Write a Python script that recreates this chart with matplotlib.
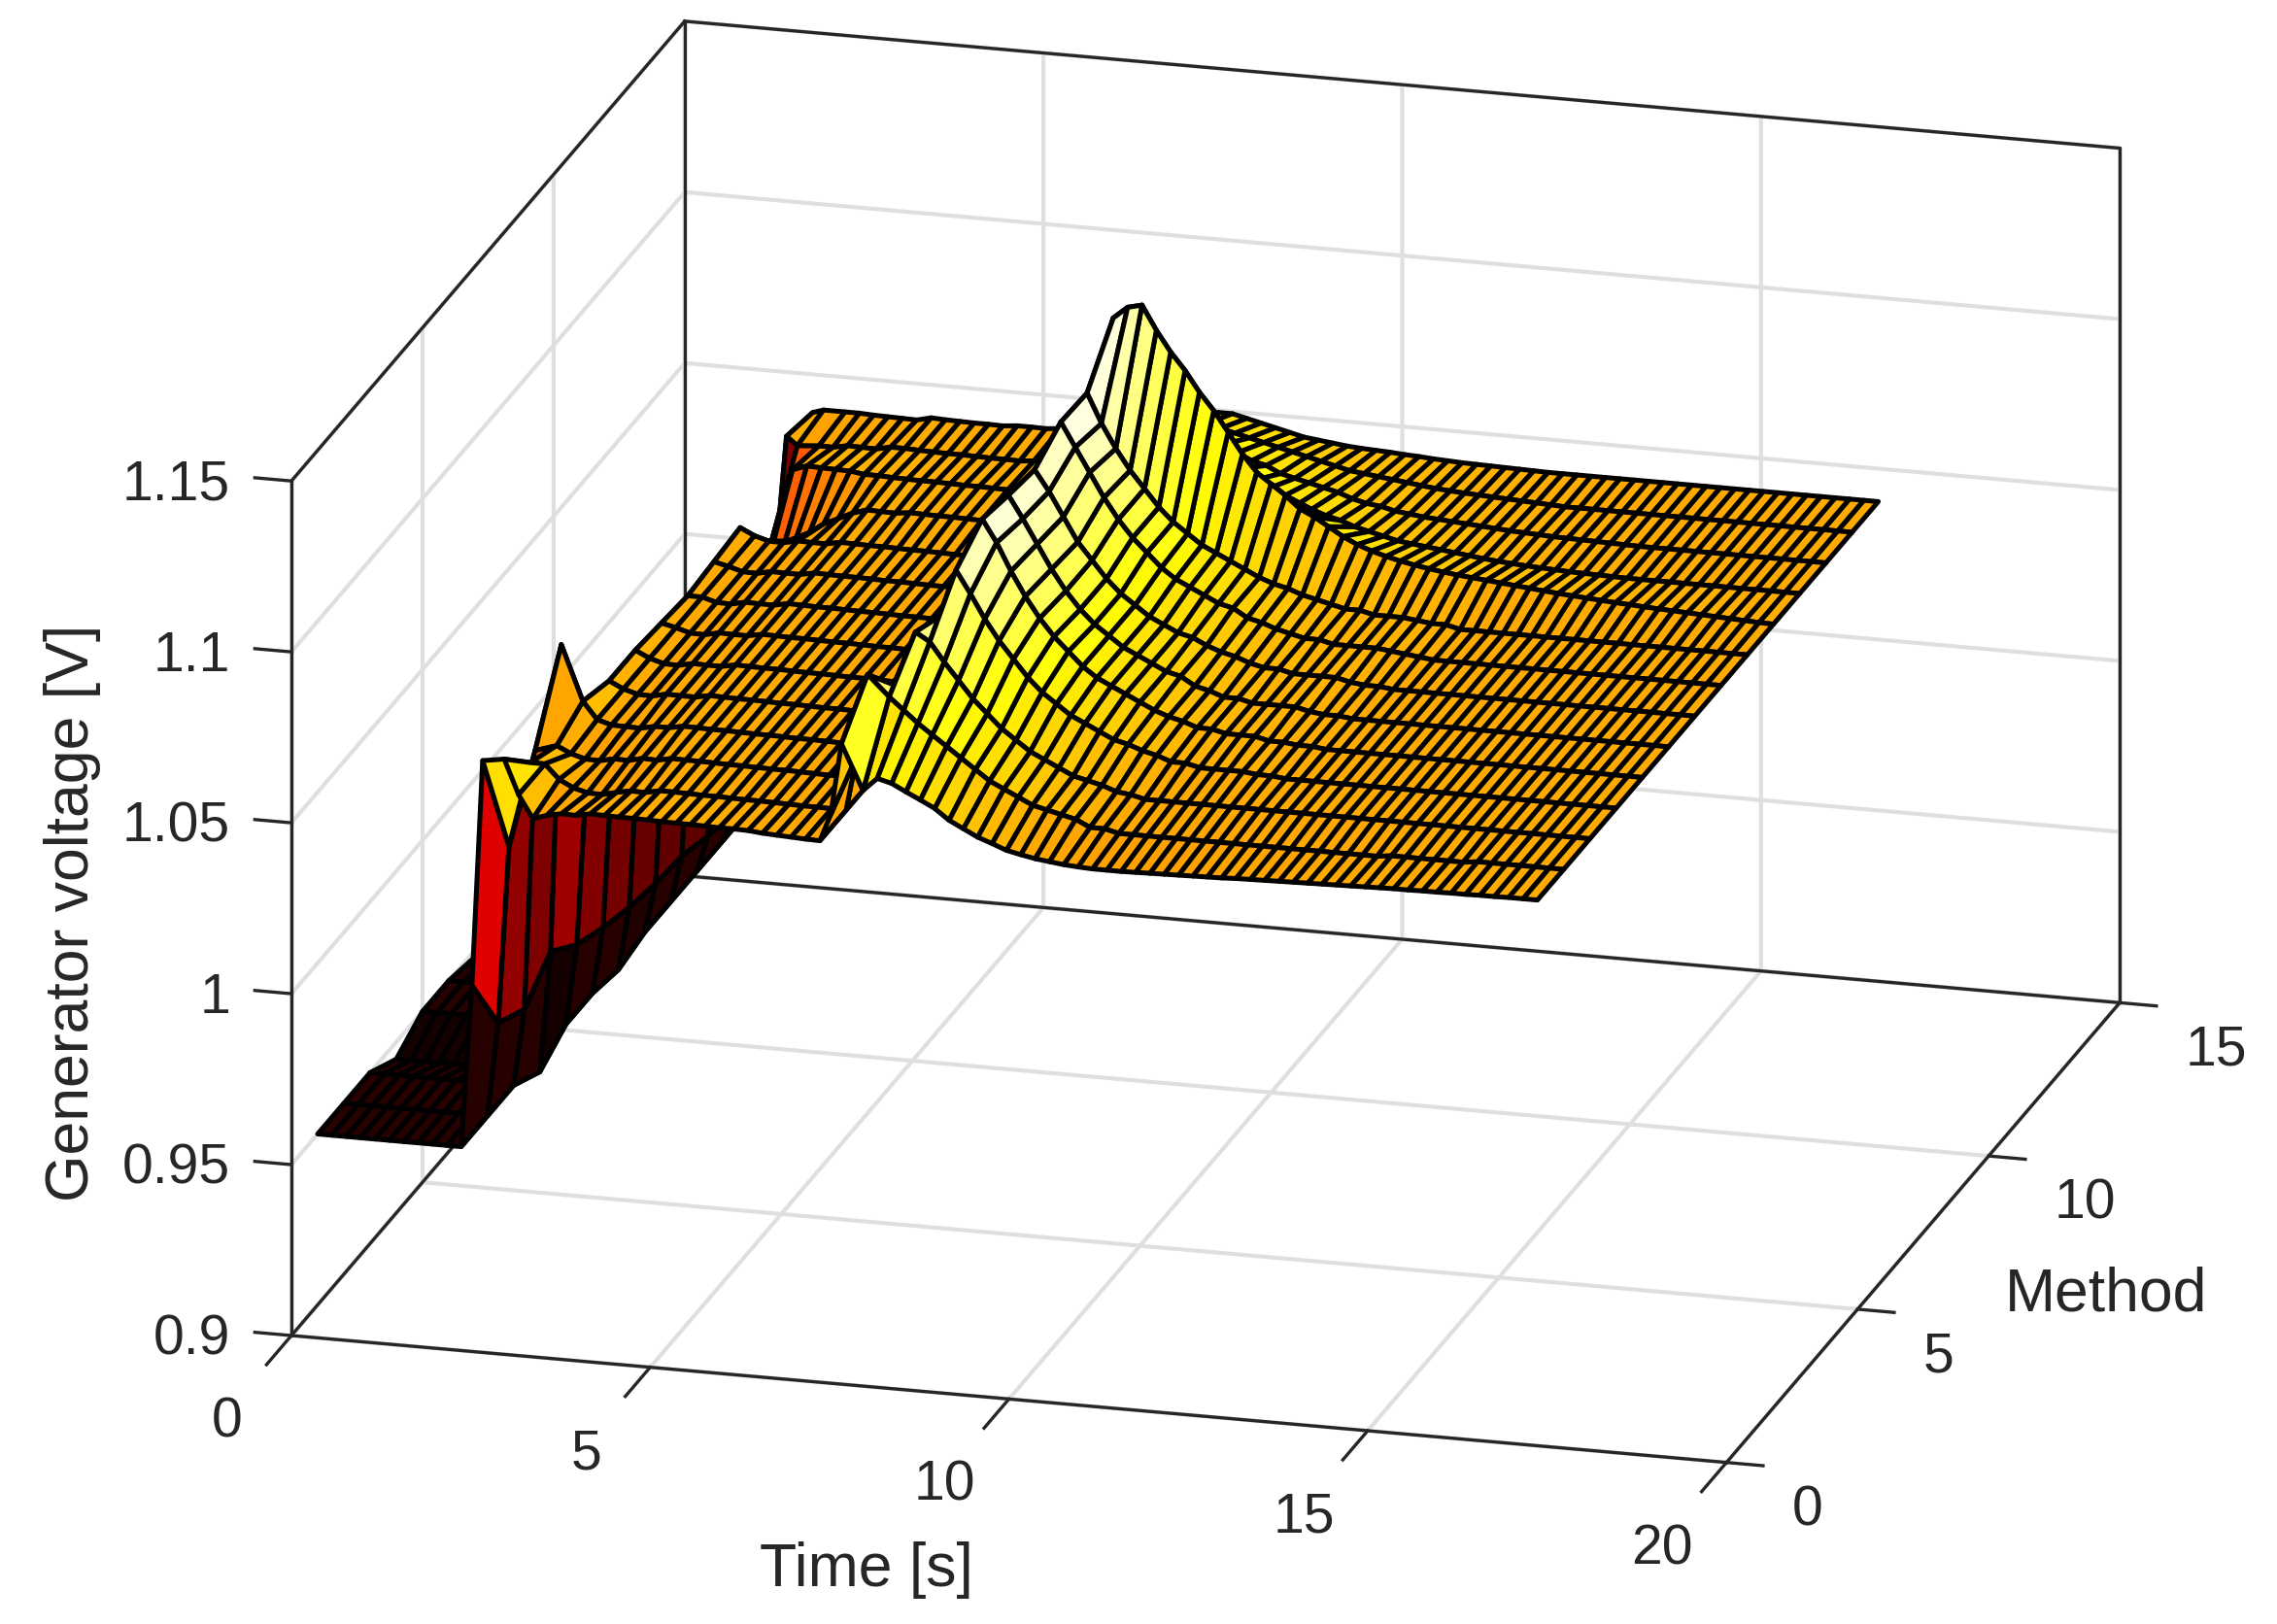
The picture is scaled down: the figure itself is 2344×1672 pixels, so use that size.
#!/usr/bin/env python
"""Generator voltage surface over time and method, MATLAB style view."""
import matplotlib
matplotlib.use("Agg")
import matplotlib.pyplot as plt
import numpy as np
from mpl_toolkits.mplot3d import proj3d

plt.rcParams["font.family"] = ["Liberation Sans", "DejaVu Sans"]

TEXT_COLOR = "#262626"
GRID_COLOR = "#dfdfdf"

x_ticks = [0, 5, 10, 15, 20]
y_ticks = [0, 5, 10, 15]
z_ticks = [0.9, 0.95, 1.0, 1.05, 1.1, 1.15]
x_tick_labels = ["0", "5", "10", "15", "20"]
y_tick_labels = ["0", "5", "10", "15"]
z_tick_labels = ["0.9", "0.95", "1", "1.05", "1.1", "1.15"]

method = list(range(1, 15))

time_s = [
    0.0, 0.2, 0.4, 0.6, 0.8, 1.0, 1.2, 1.4, 1.6, 1.8, 2.0,
    2.15, 2.3, 2.6, 2.8,
    3.0, 3.2, 3.4, 3.6, 3.8, 4.0, 4.2, 4.4, 4.6, 4.8, 5.0,
    5.2, 5.4, 5.6, 5.8, 6.0, 6.2, 6.4, 6.6, 6.8, 7.0,
    7.15, 7.3, 7.6, 7.8, 8.0, 8.2, 8.4, 8.6, 8.8, 9.0,
    9.2, 9.4, 9.6, 9.8, 10.0, 10.2, 10.4, 10.6, 10.8, 11.0,
    11.2, 11.4, 11.6, 11.8, 12.0, 12.2, 12.4, 12.6, 12.8, 13.0,
    13.2, 13.4, 13.6, 13.8, 14.0, 14.2, 14.4, 14.6, 14.8, 15.0,
    15.2, 15.4, 15.6, 15.8, 16.0, 16.2, 16.4, 16.6, 16.8, 17.0,
]

# plateau from 3 s to 7 s shared by the middle methods
plateau_mid = [
    1.0483, 1.0482, 1.0491, 1.049, 1.049, 1.0498, 1.0497, 1.0496, 1.0496, 1.0495, 1.0494,
    1.0494, 1.0493, 1.0492, 1.0492, 1.0491, 1.049, 1.0489, 1.0489, 1.0488, 1.0488,
]

# one row per method: flat start, step at 2 s, plateau, ridge after 7 s, tail
method_01 = [0.950] * 11 + [0.9975, 1.0635, 1.0645, 1.0545] + [
    1.0478, 1.0492, 1.05, 1.0499, 1.0507, 1.0506, 1.0505, 1.0505, 1.0504, 1.0503, 1.0502,
    1.0502, 1.0501, 1.05, 1.05, 1.0499, 1.0495, 1.0493, 1.0491, 1.0489, 1.0488] + [
    1.0567, 1.0777, 1.0646, 1.0685, 1.0674, 1.0653, 1.0633, 1.0612, 1.0581, 1.056,
    1.0539, 1.0524, 1.0508, 1.0499, 1.0491, 1.0486, 1.0481, 1.0478, 1.0476, 1.0476,
    1.0476, 1.0477, 1.0478, 1.0479, 1.048, 1.0481, 1.0482, 1.0483, 1.0485, 1.0486,
    1.0487, 1.0488, 1.0489, 1.049, 1.0491, 1.0492, 1.0493, 1.0494, 1.0495, 1.0496,
    1.0496, 1.0497, 1.0497, 1.0498, 1.0498, 1.0499, 1.0499, 1.05, 1.05, 1.05]
method_02 = [0.950] * 11 + [0.9775, 1.0295, 1.0545, 1.0545] + [
    1.0503, 1.0482, 1.0471, 1.047, 1.048, 1.0488, 1.0487, 1.0496, 1.0496, 1.0495, 1.0494,
    1.0494, 1.0493, 1.0492, 1.0492, 1.0491, 1.049, 1.0489, 1.0489, 1.0488, 1.0488] + [
    1.065, 1.089, 1.083, 1.0795, 1.076, 1.073, 1.070, 1.067, 1.064, 1.061,
    1.059, 1.057, 1.055, 1.054, 1.053, 1.052, 1.050, 1.050, 1.049, 1.049,
    1.049, 1.049, 1.049, 1.049, 1.049, 1.049, 1.049, 1.049, 1.049, 1.049
] + [1.049] * 7 + [1.0495] * 6 + [1.05] * 7
method_03 = [0.950] * 11 + [0.9725, 1.0485, 1.0505, 1.0485] + [
    1.0473, 1.0472, 1.0481, 1.048, 1.049, 1.0488, 1.0497, 1.0496, 1.0496, 1.0495, 1.0494,
    1.0494, 1.0493, 1.0492, 1.0492, 1.0491, 1.049, 1.0489, 1.0489, 1.0488, 1.0488] + [
    1.059, 1.077, 1.093, 1.0905, 1.085, 1.080, 1.075, 1.071, 1.067, 1.064,
    1.061, 1.059, 1.057, 1.055, 1.054, 1.053, 1.0515, 1.051, 1.050, 1.050,
    1.050, 1.050, 1.050, 1.050, 1.050, 1.050, 1.050, 1.050, 1.050, 1.050
] + [1.05] * 20
method_04 = [0.945] * 11 + [0.9805, 1.0705, 1.0545, 1.0495] + [
    1.0483, 1.0482, 1.0481, 1.049, 1.049, 1.0498, 1.0497, 1.0496, 1.0496, 1.0495, 1.0494,
    1.0494, 1.0493, 1.0492, 1.0492, 1.0491, 1.049, 1.0489, 1.0489, 1.0488, 1.0488] + [
    1.055, 1.067, 1.089, 1.1025, 1.096, 1.089, 1.083, 1.078, 1.073, 1.069,
    1.066, 1.063, 1.061, 1.059, 1.057, 1.056, 1.0545, 1.0535, 1.052, 1.052,
    1.051, 1.051, 1.051, 1.051, 1.0505, 1.0505, 1.05, 1.05, 1.05, 1.05
] + [1.05] * 20
method_05 = [0.950] * 11 + [0.9735, 1.0285, 1.0515, 1.0495] + plateau_mid + [
    1.053, 1.063, 1.089, 1.1085, 1.102, 1.094, 1.087, 1.081, 1.076, 1.072,
    1.068, 1.065, 1.063, 1.061, 1.059, 1.057, 1.0555, 1.0545, 1.053, 1.053,
    1.052, 1.052, 1.052, 1.051, 1.051, 1.0505, 1.0505, 1.05, 1.05, 1.05
] + [1.05] * 20
method_06 = [0.950] * 11 + [0.9695, 1.0265, 1.0515, 1.0495] + plateau_mid + [
    1.052, 1.062, 1.088, 1.1065, 1.100, 1.093, 1.086, 1.080, 1.075, 1.071,
    1.068, 1.065, 1.063, 1.061, 1.059, 1.058, 1.0555, 1.0545, 1.053, 1.053,
    1.052, 1.052, 1.052, 1.052, 1.051, 1.0505, 1.0505, 1.05, 1.05, 1.05
] + [1.05] * 20
method_07 = [0.948] * 11 + [0.9665, 1.0235, 1.0505, 1.0495] + plateau_mid + [
    1.052, 1.061, 1.087, 1.105, 1.099, 1.092, 1.085, 1.080, 1.075, 1.071,
    1.068, 1.065, 1.063, 1.061, 1.060, 1.058, 1.0565, 1.0555, 1.054, 1.053,
    1.053, 1.052, 1.052, 1.052, 1.052, 1.051, 1.0505, 1.0505, 1.05, 1.05
] + [1.05] * 20
method_08 = [0.950] * 11 + [0.9645, 1.0225, 1.0495, 1.0495] + plateau_mid + [
    1.052, 1.062, 1.091, 1.110, 1.103, 1.096, 1.089, 1.083, 1.078, 1.074,
    1.070, 1.067, 1.065, 1.063, 1.061, 1.060, 1.0575, 1.0565, 1.055, 1.054,
    1.053, 1.053, 1.052, 1.052, 1.052, 1.052, 1.0515, 1.051, 1.0505, 1.05
] + [1.05] * 20
method_09 = [0.950] * 11 + [0.9635, 1.0205, 1.0505, 1.0495] + plateau_mid + [
    1.052, 1.063, 1.091, 1.1095, 1.101, 1.094, 1.088, 1.083, 1.078, 1.074,
    1.071, 1.068, 1.066, 1.064, 1.062, 1.060, 1.0585, 1.0575, 1.056, 1.055,
    1.054, 1.053, 1.053, 1.052, 1.052, 1.052, 1.0515, 1.051, 1.051, 1.05
] + [1.05] * 20
method_10 = [0.950] * 11 + [0.9605, 1.0185, 1.0515, 1.0495] + plateau_mid + [
    1.053, 1.067, 1.107, 1.1225, 1.126, 1.127, 1.120, 1.114, 1.109, 1.103,
    1.098, 1.092, 1.086, 1.081, 1.078, 1.075, 1.0715, 1.0695, 1.067, 1.0645,
    1.0625, 1.061, 1.0598, 1.0588, 1.058, 1.0573, 1.0567, 1.0562, 1.0558, 1.0554,
    1.055, 1.0546, 1.0542, 1.0538, 1.0534, 1.0531, 1.0528, 1.0525, 1.0522, 1.052,
    1.0517, 1.0515, 1.0513, 1.0511, 1.0509, 1.0507, 1.0505, 1.0503, 1.0501, 1.05]
method_11 = [0.950] * 11 + [0.9585, 1.0035, 1.0305, 1.0345] + [
    1.0393, 1.0422, 1.0451, 1.047, 1.049, 1.0503, 1.0502, 1.0501, 1.0506, 1.0505, 1.0504,
    1.0504, 1.0503, 1.0502, 1.0502, 1.0501, 1.05, 1.0499, 1.0499, 1.0498, 1.0498] + [
    1.052, 1.057, 1.075, 1.0865, 1.090, 1.088, 1.085, 1.082, 1.078, 1.075,
    1.072, 1.069, 1.067, 1.065, 1.063, 1.062, 1.0605, 1.0595, 1.058, 1.057,
    1.056, 1.055, 1.0545, 1.054, 1.0535, 1.053, 1.0525, 1.052, 1.0516, 1.0513,
    1.051, 1.0508, 1.0506, 1.0504, 1.0503, 1.0502, 1.0501] + [1.05] * 13
method_12 = [0.950] * 11 + [0.9735, 1.0285, 1.0505, 1.052] + [
    1.0518, 1.0517, 1.0516, 1.051, 1.051, 1.0508, 1.0507, 1.0506, 1.0506, 1.0505, 1.0504,
    1.0504, 1.0503, 1.0502, 1.0502, 1.0501, 1.05, 1.0499, 1.0499, 1.0498, 1.0498] + [
    1.051, 1.054, 1.065, 1.0715, 1.073, 1.072, 1.071, 1.069, 1.067, 1.065,
    1.064, 1.062, 1.061, 1.060, 1.059, 1.058, 1.0565, 1.0555, 1.055, 1.054,
    1.0535, 1.053, 1.0527, 1.0524, 1.0521, 1.0518, 1.0515, 1.0512, 1.051, 1.0508,
    1.0506, 1.0505, 1.0504, 1.0503, 1.0502, 1.0501] + [1.05] * 14
method_13 = [0.950] * 11 + [1.0505, 1.048, 1.0485, 1.0485] + [
    1.0493, 1.0492, 1.0491, 1.05, 1.05, 1.0498, 1.0497, 1.0496, 1.0496, 1.0495, 1.0494,
    1.0494, 1.0493, 1.0497, 1.0497, 1.0501, 1.05, 1.0499, 1.0499, 1.0498, 1.0498] + [
    1.051, 1.052, 1.059, 1.0645, 1.065, 1.064, 1.063, 1.062, 1.061, 1.060,
    1.059, 1.058, 1.057, 1.056, 1.055, 1.0545, 1.054, 1.0535, 1.053, 1.0525,
    1.052, 1.0517, 1.0514, 1.0512, 1.051, 1.0508, 1.0506, 1.0504, 1.0502, 1.05
] + [1.05] * 20
method_14 = [0.950] * 11 + [1.0485, 1.0495, 1.0495, 1.0495] + [
    1.0493, 1.0492, 1.0491, 1.049, 1.05, 1.0498, 1.0497, 1.0496, 1.0496, 1.0495, 1.0499,
    1.0499, 1.0498, 1.0502, 1.0502, 1.0501, 1.05, 1.0499, 1.0499, 1.0498, 1.0498] + [
    1.050, 1.051, 1.056, 1.059, 1.059, 1.058, 1.057, 1.056, 1.055, 1.054,
    1.0535, 1.053, 1.0525, 1.0522, 1.052, 1.0518, 1.0515, 1.0513, 1.051, 1.0508,
    1.0506, 1.0505, 1.0504, 1.0503, 1.0502, 1.0501, 1.05, 1.05, 1.05, 1.05
] + [1.05] * 20

# where the box corners sit in the target, pixels from top left
BOX_LEFT_FRONT = (300, 1375)
BOX_RIGHT_FRONT = (1777.3, 1505.7)


def fit_axes(fig, ax):
    """Scale and shift the square 3D axes so the box lands on the target pixels."""
    fig.canvas.draw()
    width, height = fig.canvas.get_width_height()

    def to_pixels(x, y, z):
        u, v, _ = proj3d.proj_transform(x, y, z, ax.get_proj())
        return ax.transData.transform((u, v))

    p0 = to_pixels(x_ticks[0], y_ticks[0], z_ticks[0])
    p1 = to_pixels(x_ticks[-1], y_ticks[0], z_ticks[0])
    scale = (BOX_RIGHT_FRONT[0] - BOX_LEFT_FRONT[0]) / (p1[0] - p0[0])
    box = ax.get_window_extent()
    left = BOX_LEFT_FRONT[0] - scale * (p0[0] - box.x0)
    bottom = (height - BOX_LEFT_FRONT[1]) - scale * (p0[1] - box.y0)
    ax.set_position([left / width, bottom / height,
                     scale * box.width / width, scale * box.height / height])


def put_label(ax, x, y, z, label, ha):
    """Tick label at a 3D spot, as plain 2D text in the projected plane."""
    u, v, _ = proj3d.proj_transform(x, y, z, ax.get_proj())
    ax.text2D(u, v, label, transform=ax.transData, fontsize=41, color=TEXT_COLOR,
              ha=ha, va="center")


def draw_frame(ax):
    """Box edges, tick marks and tick labels, placed from the tick lists."""
    x0, x1 = x_ticks[0], x_ticks[-1]
    y0, y1 = y_ticks[0], y_ticks[-1]
    z0, z1 = z_ticks[0], z_ticks[-1]
    edges = [
        ((x0, x1), (y0, y0), (z0, z0)), ((x1, x1), (y0, y1), (z0, z0)),
        ((x0, x1), (y1, y1), (z0, z0)), ((x0, x0), (y0, y1), (z0, z0)),
        ((x0, x0), (y0, y0), (z0, z1)), ((x0, x0), (y1, y1), (z0, z1)),
        ((x1, x1), (y1, y1), (z0, z1)), ((x0, x0), (y0, y1), (z1, z1)),
        ((x0, x1), (y1, y1), (z1, z1)),
    ]
    style = dict(color=TEXT_COLOR, linewidth=2.4)
    for xs, ys, zs in edges:
        ax.plot(xs, ys, zs, **style)
    for t, label in zip(x_ticks, x_tick_labels):
        ax.plot((t, t), (y0, y0 - 0.95), (z0, z0), **style)
        put_label(ax, t - 0.06, y0 - 2.28, z0 - 0.0051, label, "center")
    for m, label in zip(y_ticks, y_tick_labels):
        ax.plot((x1, x1 + 0.51), (m, m), (z0, z0), **style)
        put_label(ax, x1 + 0.914, m, z0 - 0.01236, label, "left")
    for v, label in zip(z_ticks, z_tick_labels):
        ax.plot((x0, x0 - 0.51), (y0, y0), (v, v), **style)
        put_label(ax, x0 - 0.853, y0, v - 0.00285, label, "right")


def main():
    fig = plt.figure(figsize=(23.44, 16.72), dpi=100)
    ax = fig.add_axes([0.1, 0.1, 0.7, 0.7 * 2344 / 1672], projection="3d", proj_type="ortho")
    ax.view_init(elev=18.76, azim=-74.62)
    ax.set_box_aspect((1532.4, 1526.7, 929.3))

    tt, mm = np.meshgrid(time_s, method)
    volts = np.array([
        method_01, method_02, method_03, method_04, method_05, method_06, method_07,
        method_08, method_09, method_10, method_11, method_12, method_13, method_14,
    ])
    norm = plt.Normalize(0.942, 1.116)
    ax.plot_surface(tt, mm, volts, rstride=1, cstride=1, facecolors=plt.cm.hot(norm(volts)),
                    shade=False, edgecolor="black", linewidth=3.6)

    ax.set_xlim(x_ticks[0], x_ticks[-1])
    ax.set_ylim(y_ticks[0], y_ticks[-1])
    ax.set_zlim(z_ticks[0], z_ticks[-1])
    ax.set_xticks(x_ticks)
    ax.set_yticks(y_ticks)
    ax.set_zticks(z_ticks)

    for axis in (ax.xaxis, ax.yaxis, ax.zaxis):
        axis.set_pane_color((1, 1, 1, 1))
        axis.line.set_visible(False)
        axis.label.set_visible(False)
        axis.offsetText.set_visible(False)
        axis._axinfo["grid"].update(color=GRID_COLOR, linewidth=3.0)
        axis._axinfo["tick"].update(inward_factor=0, outward_factor=0)
        for tick in axis.get_major_ticks():
            tick.label1.set_visible(False)

    draw_frame(ax)

    fig.text(595 / 1563, 1 - 1078 / 1115, "Time [s]", fontsize=45, color=TEXT_COLOR,
             ha="center", va="center")
    fig.text(1446 / 1563, 1 - 889 / 1115, "Method", fontsize=45, color=TEXT_COLOR,
             ha="center", va="center")
    fig.text(50 / 1563, 1 - 627 / 1115, "Generator voltage [V]", fontsize=45, color=TEXT_COLOR,
             rotation=90, ha="center", va="center")

    fit_axes(fig, ax)
    fig.savefig("out.png", dpi=100, facecolor="white")


if __name__ == "__main__":
    main()
